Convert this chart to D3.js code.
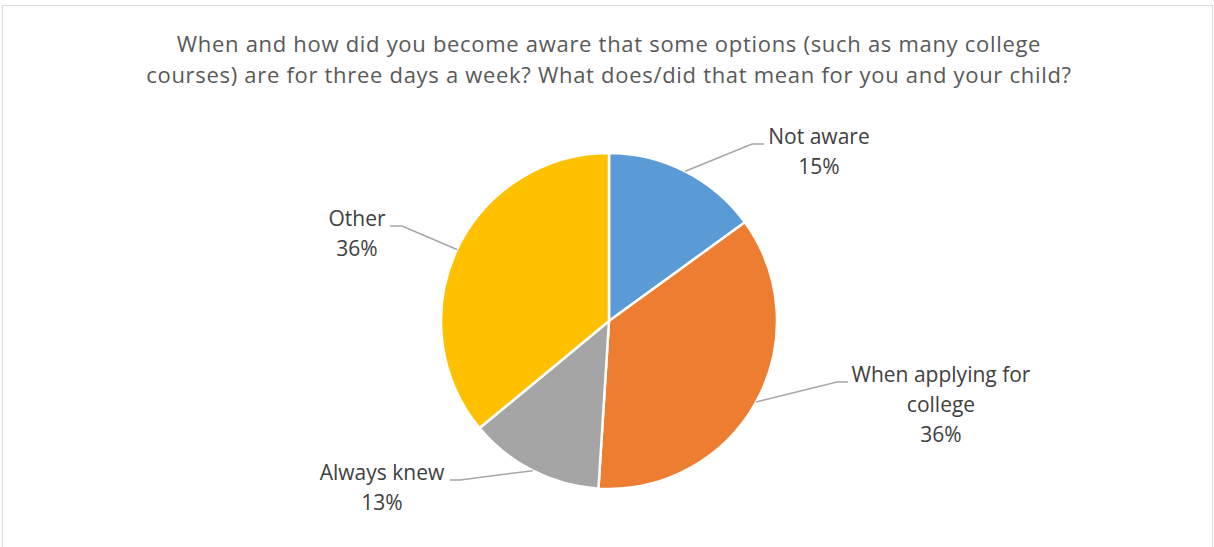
<!DOCTYPE html>
<html>
<head>
<meta charset="utf-8">
<script src="https://cdn.jsdelivr.net/npm/d3@7"></script>
<style>
  html, body { margin: 0; padding: 0; background: #fff; }
  svg { display: block; }
</style>
</head>
<body>
<svg id="chart" width="1214" height="547"></svg>
<script>
// Survey responses: share of parents by when they became aware
const categories = ["Not aware", "When applying for college", "Always knew", "Other"];
const shares = [15, 36, 13, 36];
const colors = ["#5B9BD5", "#ED7D31", "#A5A5A5", "#FFC000"];
const titleLines = [
  "When and how did you become aware that some options (such as many college",
  "courses) are for three days a week? What does/did that mean for you and your child?"
];
const labelLines = [["Not aware"], ["When applying for", "college"], ["Always knew"], ["Other"]];

// Label placement: elbow of the leader line, end of its short horizontal run, and text centre
const labelLayout = [
  { elbow: [752, 144], end: [764, 144], cx: 819, y: 144 },
  { elbow: [837, 382], end: [848, 382], cx: 941, y: 382 },
  { elbow: [460, 480], end: [450, 480], cx: 382, y: 480 },
  { elbow: [402, 226], end: [390, 226], cx: 357, y: 226 }
];

const svg = d3.select("#chart");
const cx = 609, cy = 321, R = 168;
const font = "'Open Sans', 'Noto Sans', sans-serif";

// Chart frame (open at the bottom edge)
svg.append("rect")
  .attr("x", 2.5).attr("y", 5.5)
  .attr("width", 1210).attr("height", 620)
  .attr("fill", "#fff")
  .attr("stroke", "#D9D9D9").attr("stroke-width", 1);

// Title
svg.append("g").selectAll("text")
  .data(titleLines)
  .join("text")
  .attr("x", 609)
  .attr("y", (d, i) => 52 + i * 31)
  .attr("text-anchor", "middle")
  .attr("font-family", font)
  .attr("font-size", 22)
  .attr("letter-spacing", 0.7)
  .attr("fill", "#595959")
  .text(d => d);

const data = categories.map((c, i) => ({ name: c, value: shares[i], color: colors[i], lines: labelLines[i], layout: labelLayout[i] }));

const pie = d3.pie().sort(null).value(d => d.value).startAngle(0).endAngle(2 * Math.PI);
const arcs = pie(data);
const arc = d3.arc().innerRadius(0).outerRadius(R);

const g = svg.append("g").attr("transform", `translate(${cx},${cy})`);

g.selectAll("path.slice")
  .data(arcs)
  .join("path")
  .attr("class", "slice")
  .attr("d", arc)
  .attr("fill", d => d.data.color)
  .attr("stroke", "#fff")
  .attr("stroke-width", 2.5)
  .attr("stroke-linejoin", "round");

// Leader lines from each slice's mid-angle on the rim
svg.append("g").selectAll("polyline")
  .data(arcs)
  .join("polyline")
  .attr("points", d => {
    const a = (d.startAngle + d.endAngle) / 2;
    const sx = cx + R * Math.sin(a), sy = cy - R * Math.cos(a);
    const L = d.data.layout;
    return [[sx, sy], L.elbow, L.end].map(p => p.join(",")).join(" ");
  })
  .attr("fill", "none")
  .attr("stroke", "#A6A6A6")
  .attr("stroke-width", 1.5);

// Data labels: category name plus percentage
const lab = svg.append("g").selectAll("text")
  .data(arcs)
  .join("text")
  .attr("text-anchor", "middle")
  .attr("font-family", font)
  .attr("font-size", 21)
  .attr("fill", "#404040");

lab.each(function(d) {
  const t = d3.select(this);
  const L = d.data.layout;
  const lines = d.data.lines.concat([d.data.value + "%"]);
  lines.forEach((s, i) => {
    t.append("tspan")
      .attr("x", L.cx)
      .attr("y", L.y + i * 30)
      .text(s);
  });
});
</script>
</body>
</html>
